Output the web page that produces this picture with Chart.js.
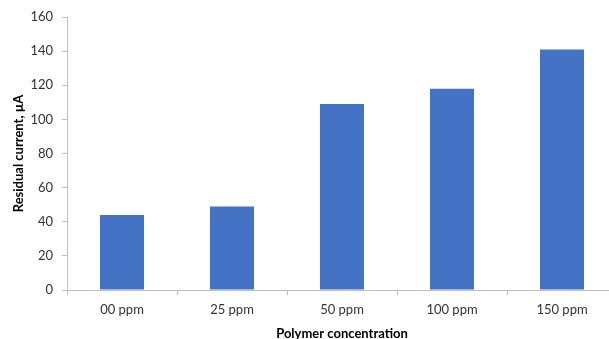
<!DOCTYPE html>
<html>
<head>
<meta charset="utf-8">
<script src="https://cdn.jsdelivr.net/npm/chart.js@4"></script>
<style>
  html, body { margin: 0; padding: 0; background: #fff; overflow: hidden; }
  #wrap { position: relative; width: 617px; height: 342px; }
</style>
</head>
<body>
<div id="wrap"><canvas id="chart"></canvas></div>
<script>
// Datos
const categorias = ['00 ppm', '25 ppm', '50 ppm', '100 ppm', '150 ppm'];
const corriente = [44, 49, 109, 118, 141];
const ticksY = [0, 20, 40, 60, 80, 100, 120, 140, 160];

const fuente = "Lato, 'Open Sans', sans-serif";
const gris = '#BFBFBF';

new Chart(document.getElementById('chart'), {
  type: 'bar',
  data: {
    labels: categorias,
    datasets: [{
      label: 'Residual current',
      data: corriente,
      backgroundColor: '#4472C4',
      borderWidth: 0,
      barPercentage: 0.4,
      categoryPercentage: 1
    }]
  },
  options: {
    responsive: true,
    maintainAspectRatio: false,
    animation: false,
    layout: { padding: { top: 17, right: 0, bottom: 0, left: 0 } },
    plugins: { legend: { display: false }, tooltip: { enabled: false } },
    scales: {
      x: {
        offset: true,
        grid: { display: true, offset: true, drawOnChartArea: false, drawTicks: true, tickLength: 5, color: gris },
        border: { color: gris, width: 1 },
        ticks: { color: '#333', font: { family: fuente, size: 13 }, padding: 7 },
        title: { display: true, text: 'Polymer concentration', color: '#000', font: { family: fuente, size: 13, weight: 'bold' }, padding: { top: 9, bottom: 0 } },
        afterFit: s => { s.height = 52; }
      },
      y: {
        min: 0,
        max: 160,
        afterBuildTicks: s => { s.ticks = ticksY.map(v => ({ value: v })); },
        grid: { display: true, drawOnChartArea: false, drawTicks: true, tickLength: 5, color: gris },
        border: { color: gris, width: 1 },
        ticks: { color: '#333', font: { family: fuente, size: 13 }, padding: 9 },
        title: { display: true, text: 'Residual current, µA', color: '#000', font: { family: fuente, size: 13, weight: 'bold' }, padding: { top: 11, bottom: 0 } },
        afterFit: s => { s.width = 67; }
      }
    }
  }
});
</script>
</body>
</html>
